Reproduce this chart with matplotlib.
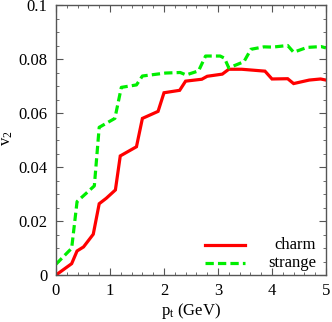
import matplotlib
matplotlib.use("Agg")
import matplotlib.pyplot as plt
from matplotlib.ticker import MultipleLocator, FuncFormatter

charm_pt = [0.0, 0.29, 0.39, 0.51, 0.69, 0.80, 0.93, 1.10, 1.19, 1.49, 1.60, 1.79, 1.89,
            2.0, 2.29, 2.40, 2.70, 2.80, 3.08, 3.20, 3.44, 3.87, 4.0, 4.29, 4.40, 4.69, 4.90, 5.0]
charm_v2 = [0.0, 0.0042, 0.0089, 0.0104, 0.0151, 0.0264, 0.0284, 0.0315, 0.0441, 0.0475, 0.0580, 0.0597, 0.0606,
            0.0675, 0.0684, 0.0718, 0.0725, 0.0736, 0.0744, 0.0762, 0.0762, 0.0755, 0.0726, 0.0727, 0.0709, 0.0722, 0.0726, 0.0722]

strange_pt = [0.0, 0.29, 0.39, 0.71, 0.80, 1.09, 1.21, 1.49, 1.60, 2.03, 2.30, 2.41, 2.64, 2.77, 3.04, 3.12,
              3.20, 3.48, 3.61, 3.85, 4.01, 4.29, 4.40, 4.65, 4.91, 5.0]
strange_v2 = [0.004, 0.0099, 0.0272, 0.0330, 0.0547, 0.0580, 0.0695, 0.0704, 0.0737, 0.0748, 0.0750, 0.0741, 0.0756, 0.0811, 0.0811, 0.0803,
              0.0767, 0.0790, 0.0836, 0.0845, 0.0844, 0.0850, 0.0825, 0.0843, 0.0846, 0.0841]

labels = ["charm", "strange"]

plt.rcParams['font.family'] = ['Liberation Serif', 'DejaVu Serif']
plt.rcParams['mathtext.fontset'] = 'custom'
plt.rcParams['mathtext.rm'] = 'Liberation Serif'
plt.rcParams['mathtext.it'] = 'Liberation Serif'

fig = plt.figure(figsize=(3.32, 3.22), dpi=100)
ax = fig.add_axes([56/332, 1-275/322, 270/332, 270/322])

ax.plot(charm_pt, charm_v2, color='#ff0000', lw=2.3, solid_joinstyle='miter')
ax.plot(strange_pt, strange_v2, color='#00ee00', lw=2.3, ls=(0, (2.6, 1.3)))

ax.set_xlim(0, 5)
ax.set_ylim(0, 0.1)
ax.xaxis.set_major_locator(MultipleLocator(1))
ax.xaxis.set_minor_locator(MultipleLocator(0.2))
ax.yaxis.set_major_locator(MultipleLocator(0.02))
ax.yaxis.set_minor_locator(MultipleLocator(0.005))
ax.xaxis.set_major_formatter(FuncFormatter(lambda v, p: f"{v:g}"))
ax.yaxis.set_major_formatter(FuncFormatter(lambda v, p: f"{v:g}"))

gray = '#555555'
for s in ax.spines.values():
    s.set_color(gray)
    s.set_linewidth(1.0)
ax.tick_params(which='both', direction='in', top=True, right=True, color=gray, labelsize=12)
ax.tick_params(which='major', length=5, pad=6)
ax.tick_params(which='minor', length=2.5)

ax.set_xlabel(r"p$_\mathrm{t}$ (GeV)", fontsize=12, labelpad=1)
fig.text(7/332, 1-138/322, r"v$_2$", rotation=90, fontsize=12, ha='center', va='center')

# legend drawn manually (gnuplot style)
leg_y = [1-(245-5)/270, 1-(263-5)/270]
styles = [dict(color='#ff0000', lw=2.3), dict(color='#00ee00', lw=2.3, ls=(0, (2.6, 1.3)))]
for yy, lab, st in zip(leg_y, labels, styles):
    ax.plot([(205-56)/270, (245-56)/270], [yy, yy], transform=ax.transAxes, **st)
    ax.text((316-56)/270, yy, lab, transform=ax.transAxes, ha='right', va='center', fontsize=12)

fig.savefig("out.png", dpi=100)
